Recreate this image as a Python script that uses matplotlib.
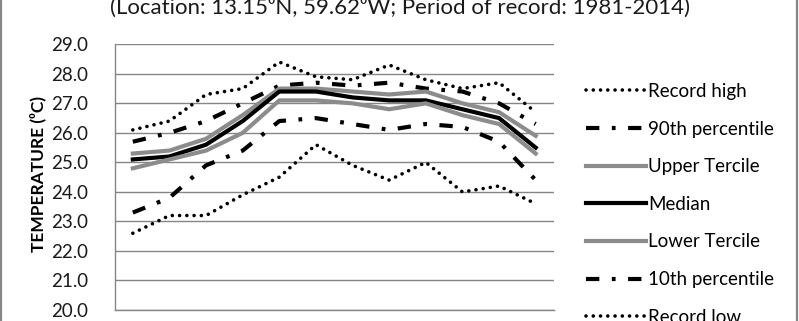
import matplotlib
matplotlib.use("Agg")
import matplotlib.pyplot as plt
from matplotlib.patches import Rectangle

plt.rcParams['font.family'] = ['Lato', 'DejaVu Sans']

months = ["Jan", "Feb", "Mar", "Apr", "May", "Jun",
          "Jul", "Aug", "Sep", "Oct", "Nov", "Dec"]
record_high = [26.1, 26.4, 27.3, 27.5, 28.4, 27.9, 27.8, 28.3, 27.8, 27.5, 27.7, 26.7]
p90 = [25.7, 26.0, 26.4, 27.0, 27.6, 27.7, 27.6, 27.7, 27.5, 27.4, 27.0, 26.3]
upper_tercile = [25.3, 25.4, 25.8, 26.6, 27.5, 27.5, 27.4, 27.3, 27.4, 27.0, 26.7, 25.9]
median = [25.1, 25.2, 25.6, 26.4, 27.4, 27.4, 27.2, 27.1, 27.1, 26.8, 26.5, 25.5]
lower_tercile = [24.8, 25.1, 25.4, 26.0, 27.1, 27.1, 27.0, 26.8, 27.0, 26.6, 26.3, 25.3]
p10 = [23.3, 23.8, 24.9, 25.4, 26.4, 26.5, 26.3, 26.1, 26.3, 26.2, 25.7, 24.4]
record_low = [22.6, 23.2, 23.2, 23.9, 24.5, 25.6, 24.9, 24.4, 25.0, 24.0, 24.2, 23.6]
y_ticks = [20.0, 21.0, 22.0, 23.0, 24.0, 25.0, 26.0, 27.0, 28.0, 29.0]

W, H = 799, 321
fig = plt.figure(figsize=(W / 100, H / 100), dpi=100)
ax = fig.add_axes([114.5 / W, 11 / H, (554 - 114.5) / W, (310 - 44.3) / H])

x = list(range(len(months)))
gray = '#8c8c8c'
dot_style = (0, (0.01, 2.0))
dashdot_style = (0, (3.2, 3.0, 0.9, 3.0))

series = [
    ("Record high", record_high, 'black', 2.6, dot_style),
    ("90th percentile", p90, 'black', 3.0, dashdot_style),
    ("Upper Tercile", upper_tercile, gray, 3.0, '-'),
    ("Median", median, 'black', 3.0, '-'),
    ("Lower Tercile", lower_tercile, gray, 3.0, '-'),
    ("10th percentile", p10, 'black', 3.0, dashdot_style),
    ("Record low", record_low, 'black', 2.6, dot_style),
]
handles = []
for name, vals, c, lw, ls in series:
    ln, = ax.plot(x, vals, color=c, lw=lw, linestyle=ls, label=name,
                  dash_capstyle='round' if ls == dot_style else 'butt',
                  solid_joinstyle='round')
    handles.append(ln)

ax.set_xlim(-0.5, 11.5)
ax.set_ylim(20, 29)
ax.set_yticks(y_ticks)
ax.set_yticklabels([f"{v:.1f}" for v in y_ticks], fontsize=13.5, color='#1a1a1a')
ax.tick_params(axis='y', length=0, pad=19)
ax.set_xticks([])
ax.grid(axis='y', color='#868686', lw=1.0)
ax.set_axisbelow(True)
for s in ['top', 'right']:
    ax.spines[s].set_visible(False)
for s in ['left', 'bottom']:
    ax.spines[s].set_color('#868686')
    ax.spines[s].set_linewidth(1.0)

fig.text(38 / W, 1 - 174 / H, "TEMPERATURE (\u2070C)", rotation=90, fontsize=12.5,
         fontweight='bold', ha='center', va='center')

fig.text(0.5, 1 - 14 / H,
         "(Location: 13.15\u2070N, 59.62\u2070W; Period of record: 1981-2014)",
         fontsize=16, ha='center', va='baseline', color='#1a1a1a')

leg = fig.legend(handles=handles, loc='upper left',
                 bbox_to_anchor=(586 / W, 1 - 83 / H), frameon=False,
                 fontsize=13.5, handlelength=3.2, handletextpad=0.1,
                 labelspacing=1.1, borderpad=0, borderaxespad=0)

# outer chart frame (partially visible)
fig.patches.append(Rectangle((1 / W, -0.1), 796 / W, 1.3, transform=fig.transFigure,
                             fill=False, edgecolor='#868686', lw=1.6))

fig.savefig("out.png", dpi=100)
